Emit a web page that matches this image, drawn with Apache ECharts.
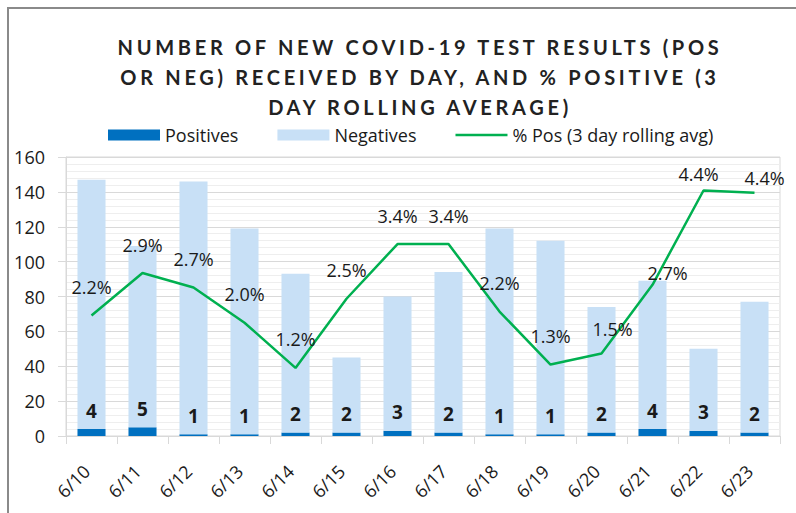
<!DOCTYPE html>
<html>
<head>
<meta charset="utf-8">
<script src="https://cdn.jsdelivr.net/npm/echarts@6/dist/echarts.min.js"></script>
<style>
html,body{margin:0;padding:0;background:#fff;}
#chart{width:796px;height:513px;}
svg text[style*="Lato"]{letter-spacing:3.7px;}
</style>
</head>
<body>
<div id="chart"></div>
<script>
const categories = ['6/10','6/11','6/12','6/13','6/14','6/15','6/16','6/17','6/18','6/19','6/20','6/21','6/22','6/23'];
const positives = [4,5,1,1,2,2,3,2,1,1,2,4,3,2];
const negatives = [143,104,145,118,91,43,77,92,118,111,72,85,47,75];
const pctPositive = [2.16,2.92,2.66,2.03,1.22,2.46,3.44,3.44,2.23,1.28,1.48,2.71,4.40,4.36];
const titleLines = ['NUMBER OF NEW COVID-19 TEST RESULTS (POS','OR NEG) RECEIVED BY DAY, AND % POSITIVE (3','DAY ROLLING AVERAGE)'];
const seriesNames = ['Positives','Negatives','% Pos (3 day rolling avg)'];
// manual nudges of a few % labels, as placed in the original chart (pixels)
const pctLabelNudge = {10:[11,4], 11:[15,17], 12:[-5,12], 13:[10,14]};

const chart = echarts.init(document.getElementById('chart'), null, {renderer:'svg'});
const txt = '#1a1a1a';
const baseFont = 'Open Sans';
const pctData = pctPositive.map((v,i)=> pctLabelNudge[i] ? {value:v, label:{offset:pctLabelNudge[i]}} : v);
chart.setOption({
  animation:false,
  graphic:[
    {type:'rect', shape:{x:8,y:8,width:830,height:560}, style:{fill:'none', stroke:'#8a8a8a', lineWidth:2}, silent:true},
    {type:'text', x:420, y:32, style:{text:titleLines.join('\n'), textAlign:'center', textVerticalAlign:'top', fontFamily:'Lato', fontWeight:'bold', fontSize:20, lineHeight:30, fill:'#222'}}
  ],
  legend:{
    left:108, top:126, padding:0, itemWidth:52, itemHeight:11, itemGap:39,
    textStyle:{fontSize:18, fontFamily:baseFont, color:txt},
    data:[
      {name:seriesNames[0], icon:'rect'},
      {name:seriesNames[1], icon:'rect'},
      {name:seriesNames[2], icon:'path://M0 0H52V2.5H0Z', itemStyle:{color:'#00B050', opacity:1}}
    ]
  },
  grid:{left:66, right:16, top:157, bottom:77, show:true, borderColor:'#d9d9d9', borderWidth:1, containLabel:false},
  xAxis:{
    type:'category', data:categories,
    axisLine:{lineStyle:{color:'#d9d9d9', width:1}},
    axisTick:{show:true, length:8, lineStyle:{color:'#d9d9d9'}},
    axisLabel:{rotate:45, interval:0, fontSize:18, fontFamily:baseFont, color:txt, margin:27, padding:[0,7,0,0]}
  },
  yAxis:[
    {type:'value', min:0, max:160, interval:20,
     axisLine:{show:true, lineStyle:{color:'#d9d9d9'}},
     axisTick:{show:true, length:8, lineStyle:{color:'#d9d9d9'}},
     axisLabel:{fontSize:18, fontFamily:baseFont, color:txt, margin:21},
     splitLine:{lineStyle:{color:'#d9d9d9'}},
     minorTick:{show:false, splitNumber:5},
     minorSplitLine:{show:true, lineStyle:{color:'#eeeeee'}}
    },
    {type:'value', min:0, max:5, show:false, splitLine:{show:false}}
  ],
  series:[
    {name:seriesNames[0], type:'bar', stack:'tests', data:positives, barCategoryGap:'45%',
     itemStyle:{color:'#0070C0'},
     label:{show:true, position:'top', distance:9, fontSize:19, fontWeight:'bold', fontFamily:baseFont, color:txt}},
    {name:seriesNames[1], type:'bar', stack:'tests', data:negatives, barCategoryGap:'45%',
     itemStyle:{color:'#C8E0F6'}},
    {name:seriesNames[2], type:'line', yAxisIndex:1, data:pctData, symbol:'circle', symbolSize:1,
     showSymbol:true,
     lineStyle:{color:'#00B050', width:2.5}, itemStyle:{color:'rgba(0,176,80,0)'}, z:5,
     label:{show:true, position:'top', distance:19, fontSize:18, fontFamily:baseFont, color:txt,
            formatter:p=>p.value.toFixed(1)+'%'}}
  ]
});
</script>
</body>
</html>
